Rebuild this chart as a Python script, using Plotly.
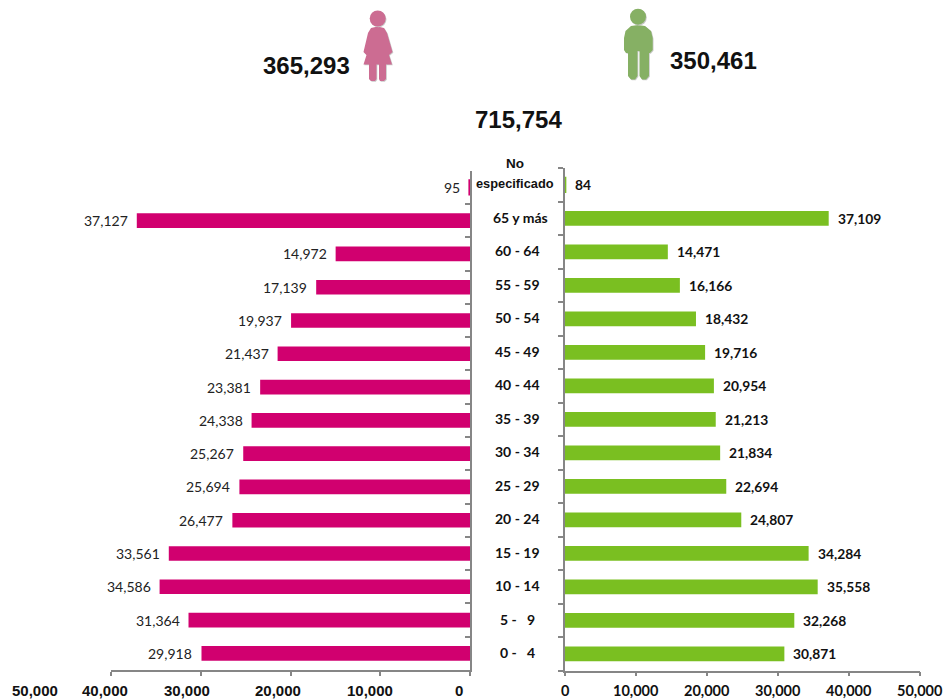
import plotly.graph_objects as go

W, H = 943, 700
categories = ["0 - 4", "5 - 9", "10 - 14", "15 - 19", "20 - 24", "25 - 29", "30 - 34", "35 - 39",
              "40 - 44", "45 - 49", "50 - 54", "55 - 59", "60 - 64", "65 y más", "No especificado"]
category_labels = ["0 -   4", "5 -   9", "10 - 14", "15 - 19", "20 - 24", "25 - 29", "30 - 34", "35 - 39",
                   "40 - 44", "45 - 49", "50 - 54", "55 - 59", "60 - 64", "65 y más", "No"]
mujeres = [29918, 31364, 34586, 33561, 26477, 25694, 25267, 24338, 23381, 21437, 19937, 17139, 14972, 37127, 95]
hombres = [30871, 32268, 35558, 34284, 24807, 22694, 21834, 21213, 20954, 19716, 18432, 16166, 14471, 37109, 84]
axis_ticks = [0, 10000, 20000, 30000, 40000, 50000]
axis_tick_labels = ["0", "10,000", "20,000", "30,000", "40,000", "50,000"]
left_tick_centers_px = [459, 370, 278, 187, 105, 35]
total_mujeres = "365,293"
total_hombres = "350,461"
total = "715,754"

PINK, GREEN, GREY = "#D1006F", "#7ABF21", "#868686"
ICON_PINK, ICON_GREEN = "#CC6C92", "#86B064"
BODY = "Lato, Carlito, sans-serif"
ARIAL = "'Liberation Sans', Arial, sans-serif"
px = lambda v: v / W
py = lambda v: 1 - v / H

thin_line = [1.5 if v < 200 else 0 for v in mujeres]
fig = go.Figure()
fig.add_bar(y=categories, x=mujeres, orientation="h", marker_color=PINK, marker_line_color=PINK,
            marker_line_width=thin_line, xaxis="x", yaxis="y", width=0.44, hoverinfo="skip")
fig.add_bar(y=categories, x=hombres, orientation="h", marker_color=GREEN, marker_line_color=GREEN,
            marker_line_width=thin_line, xaxis="x2", yaxis="y2", width=0.44, hoverinfo="skip")

ann = []
for c, v in zip(categories, mujeres):
    ann.append(dict(x=v, y=c, xref="x", yref="y", text=f"{v:,}", showarrow=False, xanchor="right", xshift=-7,
                    yanchor="middle", font=dict(family=BODY, size=14, color="#222")))
for c, v in zip(categories, hombres):
    ann.append(dict(x=v, y=c, xref="x2", yref="y2", text=f"{v:,}", showarrow=False, xanchor="left", xshift=7,
                    yanchor="middle", font=dict(family=BODY, size=13.8, color="#111", weight="bold")))
for c, t in zip(categories, category_labels):
    no = t == "No"
    cx = 515 if no else 520.5 if t == "65 y más" else 517
    ann.append(dict(x=px(cx), y=c, xref="paper", yref="y2", text=t, showarrow=False, xanchor="center",
                    yanchor="middle", yshift=21 if no else 1,
                    font=dict(family=ARIAL if no else BODY, size=13.5 if no else 14, color="#111", weight="bold")))
ann.append(dict(x=px(514.5), y=categories[-1], xref="paper", yref="y2", text="especificado", showarrow=False,
                xanchor="center", yanchor="middle", yshift=1.5,
                font=dict(family=ARIAL, size=12.8, color="#111", weight="bold")))
for cx, t in zip(left_tick_centers_px, axis_tick_labels):
    ann.append(dict(x=px(cx), y=py(690.5), xref="paper", yref="paper", text=t, showarrow=False,
                    xanchor="center", yanchor="middle",
                    font=dict(family=ARIAL, size=15, color="#111", weight="bold")))
for v, t in zip(axis_ticks, axis_tick_labels):
    ann.append(dict(x=v, y=py(690.5), xref="x2", yref="paper", text=t, showarrow=False,
                    xanchor="center", yanchor="middle",
                    font=dict(family=BODY, size=14.5, color="#111", weight="bold")))
for cx, cy, t in [(306, 65, total_mujeres), (713.5, 60, total_hombres), (518, 119, total)]:
    ann.append(dict(x=px(cx), y=py(cy), xref="paper", yref="paper", text=t, showarrow=False,
                    xanchor="center", yanchor="middle",
                    font=dict(family=ARIAL, size=24, color="#111", weight="bold")))


def path(points):
    return "M " + " L ".join(f"{px(x):.5f},{py(y):.5f}" for x, y in points) + " Z"


def circle(color, cx, cy, r):
    return dict(type="circle", xref="paper", yref="paper", line_width=0, fillcolor=color,
                x0=px(cx - r), x1=px(cx + r), y0=py(cy + r), y1=py(cy - r))


dress = [(377.7, 26.5), (384, 28), (387, 33), (392.5, 52), (389, 55), (392, 64.5), (386, 64.5), (386, 79), (384, 81),
         (380, 81), (379, 79), (379, 64.5), (376.5, 64.5), (376.5, 79), (375, 81), (371, 81), (369, 79), (369, 64.5),
         (363.5, 64.5), (366.5, 55), (363.5, 52), (368, 33), (371, 28)]
man = [(638, 25), (645, 26), (651, 31), (652.7, 38), (652.7, 50), (650, 53), (649, 53), (649, 76), (646, 79.5),
       (642, 79.5), (639.5, 76), (639.5, 51), (637.5, 51), (637.5, 76), (635, 79.5), (631, 79.5), (628, 76), (628, 53),
       (626, 53), (624, 50), (624, 38), (625.5, 31), (631, 26)]
shadow = "#C9C9C9"
shapes = [
    dict(type="path", xref="paper", yref="paper", line_width=0, fillcolor=shadow,
         path=path([(x + 0.8, y + 0.8) for x, y in dress])),
    dict(type="path", xref="paper", yref="paper", line_width=0, fillcolor=ICON_PINK, path=path(dress)),
    circle(shadow, 378.5, 19.3, 8), circle(ICON_PINK, 377.7, 18.5, 8),
    dict(type="path", xref="paper", yref="paper", line_width=0, fillcolor=shadow,
         path=path([(x + 0.8, y + 0.8) for x, y in man])),
    dict(type="path", xref="paper", yref="paper", line_width=0, fillcolor=ICON_GREEN, path=path(man)),
    circle(shadow, 638.8, 17.5, 8), circle(ICON_GREEN, 638, 16.7, 8),
]

y_range = [-0.5, len(categories) - 0.5]
axis_common = dict(showgrid=False, zeroline=False, showline=True, linecolor=GREY, linewidth=1.5, automargin=False,
                   showticklabels=False, ticks="outside", tickcolor=GREY, ticklen=4, tickwidth=1.5)
y_common = dict(type="category", categoryorder="array", categoryarray=categories, range=y_range,
                autorange=False, showticklabels=False, tickson="boundaries", showgrid=False, zeroline=False,
                automargin=False,
                showline=True, linecolor=GREY, linewidth=1.5, tickcolor=GREY, ticklen=5, tickwidth=1.5)
fig.update_layout(
    width=W, height=H, autosize=False, margin=dict(l=0, r=0, t=0, b=0), showlegend=False,
    paper_bgcolor="white", plot_bgcolor="white", barmode="overlay",
    xaxis=dict(domain=[px(111), px(470)], range=[40000, 0], tickvals=axis_ticks[:5], anchor="y", **axis_common),
    xaxis2=dict(domain=[px(565), px(920.3)], range=[0, 50000], tickvals=axis_ticks, anchor="y2", **axis_common),
    yaxis=dict(domain=[py(670), py(170.7)], anchor="x", side="right", ticks="inside", **y_common),
    yaxis2=dict(domain=[py(670.7), py(168)], anchor="x2", side="left", ticks="outside", **y_common),
    annotations=ann, shapes=shapes,
)
fig.write_html("out.html", post_script="document.body.style.margin='0';", config={"displayModeBar": False})
